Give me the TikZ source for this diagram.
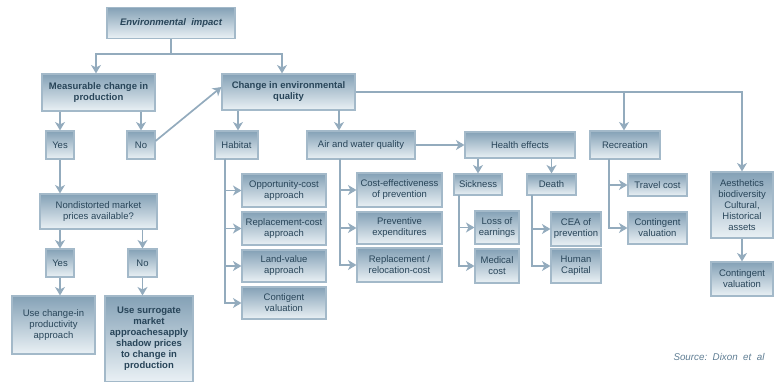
\documentclass[tikz,border=0pt]{standalone}
\usepackage{fontspec}
\setmainfont{Liberation Sans}
\usetikzlibrary{arrows.meta}
\definecolor{lineC}{HTML}{93ABBD}
\definecolor{borderC}{HTML}{A3B9C9}
\definecolor{boxtop}{HTML}{84A1B6}
\definecolor{boxbot}{HTML}{EAF1F5}
\definecolor{txtC}{HTML}{284559}
\definecolor{srcC}{HTML}{5F7D93}
\tikzset{
  box/.style={draw=borderC, line width=1.1pt, top color=boxtop, bottom color=boxbot,
    text=txtC, align=center, inner sep=1pt, font=\fontsize{9.5}{11}\selectfont},
  bbox/.style={box, font=\fontsize{9.5}{11}\selectfont\bfseries},
  conn/.style={draw=lineC, line width=1.7pt},
  arr/.style={conn, -{Stealth[length=8.5pt,width=10pt,inset=2.5pt]}},
}
\begin{document}
\begin{tikzpicture}[x=1pt,y=-1pt]
\useasboundingbox (0,0) rectangle (775,382);
% top
\node[bbox, minimum width=128pt, minimum height=31pt, font=\fontsize{9.5}{11}\selectfont\bfseries\itshape] (env) at (171,23) {Environmental\ \ impact};
\node[bbox, minimum width=113pt, minimum height=37pt] (meas) at (98.5,92.5) {Measurable change in\\production};
\node[bbox, minimum width=133pt, minimum height=36pt] (ceq) at (288.5,92) {Change in environmental\\quality};
% left branch
\node[box, minimum width=28pt, minimum height=28pt] (yes1) at (60,145) {Yes};
\node[box, minimum width=28pt, minimum height=28pt] (no1) at (141,145) {No};
\node[box, minimum width=117pt, minimum height=35pt] (nond) at (98.5,211.5) {Nondistorted market\\prices available?};
\node[box, minimum width=28pt, minimum height=28pt] (yes2) at (60,263) {Yes};
\node[box, minimum width=29pt, minimum height=28pt] (no2) at (142.5,263) {No};
\node[box, minimum width=83pt, minimum height=58pt] (usech) at (53.5,325) {Use change-in\\productivity\\approach};
\node[bbox, minimum width=88pt, minimum height=86pt] (surr) at (149,339) {Use surrogate\\market\\approachesapply\\shadow prices\\to change in\\production};
% categories
\node[box, minimum width=43pt, minimum height=28pt] (hab) at (236.5,145) {Habitat};
\node[box, minimum width=108pt, minimum height=28pt] (air) at (361,145) {Air and water quality};
\node[box, minimum width=110pt, minimum height=26pt] (hea) at (520,145) {Health effects};
\node[box, minimum width=70pt, minimum height=28pt] (rec) at (625,145) {Recreation};
\node[box, minimum width=62pt, minimum height=66pt] (aes) at (742,205) {Aesthetics\\biodiversity\\Cultural,\\Historical\\assets};
\node[box, minimum width=62pt, minimum height=34pt] (aescv) at (742,279) {Contingent\\valuation};
% habitat children
\node[box, minimum width=84pt, minimum height=33pt] (opp) at (284,190.5) {Opportunity-cost\\approach};
\node[box, minimum width=84pt, minimum height=33pt] (repc) at (284,228.5) {Replacement-cost\\approach};
\node[box, minimum width=84pt, minimum height=32pt] (land) at (284,266) {Land-value\\approach};
\node[box, minimum width=84pt, minimum height=32pt] (cont) at (284,303) {Contigent\\valuation};
% air children
\node[box, minimum width=85pt, minimum height=34pt] (cep) at (399.5,190) {Cost-effectiveness\\of prevention};
\node[box, minimum width=85pt, minimum height=32pt] (prev) at (399.5,228) {Preventive\\expenditures};
\node[box, minimum width=85pt, minimum height=34pt] (repl) at (399.5,265) {Replacement /\\relocation-cost};
% health children
\node[box, minimum width=48pt, minimum height=21pt] (sick) at (478,184.5) {Sickness};
\node[box, minimum width=49pt, minimum height=21pt] (death) at (551.5,184.5) {Death};
\node[box, minimum width=44pt, minimum height=33pt] (loss) at (497,227.5) {Loss of\\earnings};
\node[box, minimum width=44pt, minimum height=34pt] (med) at (497,266) {Medical\\cost};
\node[box, minimum width=50pt, minimum height=34pt] (cea) at (576,229) {CEA of\\prevention};
\node[box, minimum width=50pt, minimum height=34pt] (hum) at (576,266) {Human\\Capital};
% recreation children
\node[box, minimum width=59pt, minimum height=22pt] (trav) at (657.5,185) {Travel cost};
\node[box, minimum width=59pt, minimum height=32pt] (reccv) at (657.5,228) {Contingent\\valuation};
% source
\node[text=srcC, font=\fontsize{9.8}{11}\selectfont\itshape, anchor=east] (src) at (768,357) {Source:\ \ Dixon\ \ et\ \ al};

% connectors top
\coordinate (j1) at (171,54);
\draw[conn] (env.south) -- (j1);
\draw[arr] (j1) -| ([xshift=-2.5pt]meas.north);
\draw[arr] (j1) -| ([xshift=-6.5pt]ceq.north);
% left branch
\draw[arr] (yes1.north |- meas.south) -- (yes1.north);
\draw[arr] (no1.north |- meas.south) -- (no1.north);
\draw[arr] ([yshift=4pt]no1.east) -- ([yshift=5pt]ceq.west);
\draw[arr] (yes1.south) -- (yes1.south |- nond.north);
\draw[arr] (yes2.north |- nond.south) -- (yes2.north);
\draw[arr] (no2.north |- nond.south) -- (no2.north);
\draw[arr] (yes2.south) -- (yes2.south |- usech.north);
\draw[arr] (no2.south) -- (no2.south |- surr.north);
% change in env quality
\draw[arr] ([xshift=1.5pt]hab.north |- ceq.south) -- ([xshift=1.5pt]hab.north);
\coordinate (airtop) at (339,110);
\draw[arr] (airtop) -- (airtop |- air.north);
\draw[arr] (ceq.east) -| (aes.north);
\draw[arr] ([xshift=-1pt]rec.north |- ceq.east) -- ([xshift=-1pt]rec.north);
\draw[arr] (air.east) -- (hea.west);
\draw[arr] (sick.north |- hea.south) -- (sick.north);
\draw[arr] (death.north |- hea.south) -- (death.north);
\draw[arr] (aes.south) -- (aescv.north);
% habitat spine
\coordinate (hs) at (225,159);
\foreach \c in {opp,repc,land,cont} \draw[arr] (hs) |- (\c.west);
% air spine
\coordinate (as) at (340,159);
\foreach \c in {cep,prev,repl} \draw[arr] (as) |- (\c.west);
% sickness spine
\coordinate (ss) at (459,195);
\foreach \c in {loss,med} \draw[arr] (ss) |- (\c.west);
% death spine
\coordinate (ds) at (532,195);
\foreach \c in {cea,hum} \draw[arr] (ds) |- (\c.west);
% recreation spine
\coordinate (rs) at (609,159);
\foreach \c in {trav,reccv} \draw[arr] (rs) |- (\c.west);
\end{tikzpicture}
\end{document}
